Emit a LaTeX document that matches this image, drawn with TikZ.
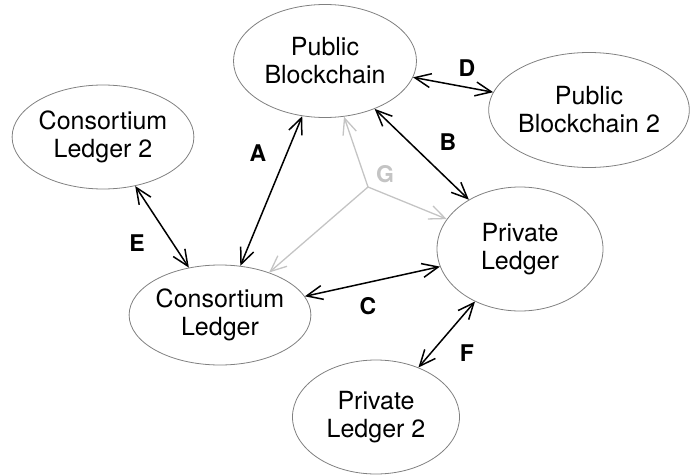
\documentclass[tikz,border=0pt]{standalone}
\usepackage{fontspec}
\setmainfont{TeX Gyre Heros}
\usetikzlibrary{arrows.meta}
\usetikzlibrary{shapes.geometric}
\definecolor{lg}{rgb}{.77,.77,.77}
\definecolor{rim}{rgb}{.5,.5,.5}

\begin{document}
\begin{tikzpicture}[
      x=1pt, y=-1pt,
      ledger/.style={ellipse, draw=rim, line width=.8pt, inner sep=0pt,
        align=center, font=\fontsize{25}{28}\selectfont},
      barb/.tip={Straight Barb[length=16pt,width=14pt]},
      link/.style={line width=1.5pt, barb-barb},
      ghost/.style={line width=1.3pt, color=lg, -barb},
      tag/.style={font=\fontsize{23}{23}\bfseries\selectfont}]
        \useasboundingbox (0,0) rectangle (690,476);

        % ledgers
        \node[ledger, minimum width=183, minimum height=113] (pb)  at (325,61)  {Public\\Blockchain};
        \node[ledger, minimum width=186, minimum height=115] (pb2) at (589,110) {Public\\Blockchain 2};
        \node[ledger, minimum width=180, minimum height=104] (cl2) at (103,137) {Consortium\\Ledger 2};
        \node[ledger, minimum width=169, minimum height=100] (cl)  at (220,315) {Consortium\\Ledger};
        \node[ledger, minimum width=166, minimum height=124] (pl)  at (520,249) {Private\\Ledger};
        \node[ledger, minimum width=167, minimum height=114] (pl2) at (376,417) {Private\\Ledger 2};

        % links
        \draw[link] (cl)  -- (pb);
        \draw[link] (pb)  -- (pl);
        \draw[link] (cl)  -- (pl);
        \draw[link] (pb)  -- (pb2);
        \draw[link] (cl2) -- (cl);
        \draw[link] (pl)  -- (pl2);

        % G
        \coordinate (g) at (368,187);
        \foreach \p in {pb, pl, cl}
          \draw[ghost] (g) -- (\p);

        \node[tag] (labA) at (258,153) {A};
        \node[tag] (labB) at (448,142) {B};
        \node[tag] (labC) at (368,306) {C};
        \node[tag] (labD) at (467,68)  {D};
        \node[tag] (labE) at (137,243) {E};
        \node[tag] (labF) at (467,353) {F};
        \node[tag, color=lg] (labG) at (385,174) {G};

      \end{tikzpicture}
\end{document}
